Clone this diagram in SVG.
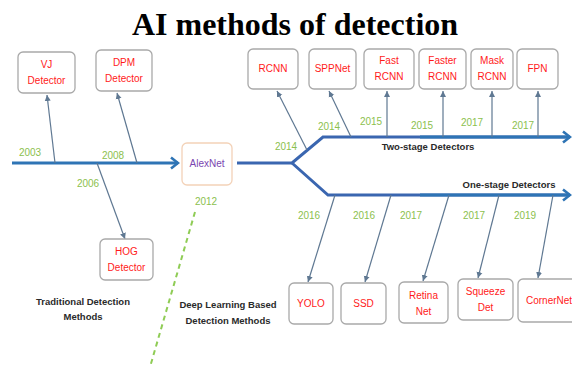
<svg xmlns="http://www.w3.org/2000/svg" width="572" height="367" viewBox="0 0 572 367">
<defs>
<marker id="big" markerUnits="userSpaceOnUse" markerWidth="12" markerHeight="14" refX="10" refY="7" orient="auto">
<path d="M3,1.5 L10,7 L3,12.5" fill="none" stroke="#2e74b5" stroke-width="2.6"/>
</marker>
<marker id="big2" markerUnits="userSpaceOnUse" markerWidth="12" markerHeight="14" refX="10" refY="7" orient="auto">
<path d="M3,1.5 L10,7 L3,12.5" fill="none" stroke="#2e74b5" stroke-width="2.6"/>
</marker>
<marker id="sm" markerUnits="userSpaceOnUse" markerWidth="8" markerHeight="8" refX="6" refY="4" orient="auto">
<path d="M0,1 L6,4 L0,7 Z" fill="#5f7892"/>
</marker>
</defs>
<style>
.box{fill:#ffffff;stroke:#a9a9a9;stroke-width:1.3}
.lbl{font-family:"Liberation Sans",Arial,sans-serif;font-size:10px;fill:#ff1a1a;text-anchor:middle}
.yr{font-family:"Liberation Sans",Arial,sans-serif;font-size:10px;fill:#8cbf4e;text-anchor:middle}
.cap{font-family:"Liberation Sans",Arial,sans-serif;font-size:9.5px;font-weight:bold;fill:#2a2a2a;text-anchor:middle}
.tl{fill:none;stroke:#2e74b5;stroke-width:3}
.br{fill:none;stroke:#3a66b0;stroke-width:3}
.cn{fill:none;stroke:#5f7892;stroke-width:1.2}
</style>
<rect width="572" height="367" fill="#ffffff"/>
<text x="295" y="35" font-family="Liberation Serif,'Times New Roman',serif" font-size="32" font-weight="bold" text-anchor="middle" fill="#000">AI methods of detection</text>

<g id="timelines">
<line class="tl" x1="12" y1="163" x2="178" y2="163" marker-end="url(#big)"/>
<polyline class="br" points="237,163 292,163 323,137 569,137"/>
<line class="tl" x1="420" y1="137" x2="570" y2="137" marker-end="url(#big2)"/>
<polyline class="br" points="292,163 328,195 569,195"/>
<line class="tl" x1="420" y1="195" x2="570" y2="195" marker-end="url(#big2)"/>
<line x1="195" y1="212" x2="150" y2="367" stroke="#8fcc55" stroke-width="2" stroke-dasharray="5,4"/>
</g>

<g id="connectors">
<line class="cn" x1="55" y1="163" x2="47" y2="95" marker-end="url(#sm)"/>
<line class="cn" x1="137" y1="163" x2="117" y2="93" marker-end="url(#sm)"/>
<line class="cn" x1="97" y1="163" x2="125" y2="239" marker-end="url(#sm)"/>
<line class="cn" x1="307" y1="150" x2="277" y2="91" marker-end="url(#sm)"/>
<line class="cn" x1="351" y1="137" x2="329" y2="91" marker-end="url(#sm)"/>
<line class="cn" x1="387" y1="137" x2="387" y2="91" marker-end="url(#sm)"/>
<line class="cn" x1="443" y1="137" x2="443" y2="91" marker-end="url(#sm)"/>
<line class="cn" x1="492" y1="137" x2="492" y2="91" marker-end="url(#sm)"/>
<line class="cn" x1="538" y1="137" x2="538" y2="91" marker-end="url(#sm)"/>
<line class="cn" x1="335" y1="195" x2="308" y2="282" marker-end="url(#sm)"/>
<line class="cn" x1="391" y1="195" x2="365" y2="282" marker-end="url(#sm)"/>
<line class="cn" x1="449" y1="195" x2="423" y2="281" marker-end="url(#sm)"/>
<line class="cn" x1="499" y1="195" x2="478" y2="278" marker-end="url(#sm)"/>
<line class="cn" x1="553" y1="195" x2="538" y2="278" marker-end="url(#sm)"/>
</g>

<g id="years">
<text class="yr" x="30" y="156">2003</text>
<text class="yr" x="113" y="159">2008</text>
<text class="yr" x="88" y="187">2006</text>
<text class="yr" x="206" y="205">2012</text>
<text class="yr" x="286" y="150">2014</text>
<text class="yr" x="329" y="130">2014</text>
<text class="yr" x="371" y="125">2015</text>
<text class="yr" x="422" y="129">2015</text>
<text class="yr" x="472" y="126">2017</text>
<text class="yr" x="523" y="129">2017</text>
<text class="yr" x="309" y="219">2016</text>
<text class="yr" x="364" y="219">2016</text>
<text class="yr" x="411" y="219">2017</text>
<text class="yr" x="474" y="219">2017</text>
<text class="yr" x="525" y="219">2019</text>
</g>

<g id="captions">
<text class="cap" x="83" y="305">Traditional Detection</text>
<text class="cap" x="83" y="320">Methods</text>
<text class="cap" x="228" y="308">Deep Learning Based</text>
<text class="cap" x="228" y="324">Detection Methods</text>
<text class="cap" x="428" y="150">Two-stage Detectors</text>
<text class="cap" x="509" y="188">One-stage Detectors</text>
</g>

<g id="vj"><rect class="box" x="18" y="52" width="57" height="41" rx="5"/><text class="lbl" x="46.5" y="68">VJ</text><text class="lbl" x="46.5" y="84">Detector</text></g>
<g id="dpm"><rect class="box" x="96" y="50" width="56" height="41" rx="5"/><text class="lbl" x="124" y="66">DPM</text><text class="lbl" x="124" y="82">Detector</text></g>
<g id="hog"><rect class="box" x="100" y="239" width="53" height="41" rx="5"/><text class="lbl" x="126.5" y="255">HOG</text><text class="lbl" x="126.5" y="271">Detector</text></g>
<g id="alexnet"><rect x="182" y="143" width="50" height="42" rx="5" fill="#fff" stroke="#f3d2b8" stroke-width="1.3"/><text class="lbl" x="207" y="167" style="fill:#7a45b0">AlexNet</text></g>
<g id="rcnn"><rect class="box" x="248" y="49" width="50" height="40" rx="5"/><text class="lbl" x="273" y="72">RCNN</text></g>
<g id="sppnet"><rect class="box" x="309" y="49" width="47" height="40" rx="5"/><text class="lbl" x="332.5" y="72">SPPNet</text></g>
<g id="fastrcnn"><rect class="box" x="364" y="49" width="50" height="40" rx="5"/><text class="lbl" x="389" y="64">Fast</text><text class="lbl" x="389" y="80">RCNN</text></g>
<g id="fasterrcnn"><rect class="box" x="419" y="49" width="47" height="40" rx="5"/><text class="lbl" x="442.5" y="64">Faster</text><text class="lbl" x="442.5" y="80">RCNN</text></g>
<g id="maskrcnn"><rect class="box" x="471" y="49" width="42" height="40" rx="5"/><text class="lbl" x="492" y="64">Mask</text><text class="lbl" x="492" y="80">RCNN</text></g>
<g id="fpn"><rect class="box" x="517" y="49" width="41" height="40" rx="5"/><text class="lbl" x="537.5" y="72">FPN</text></g>
<g id="yolo"><rect class="box" x="289" y="283" width="44" height="41" rx="5"/><text class="lbl" x="311" y="307">YOLO</text></g>
<g id="ssd"><rect class="box" x="341" y="283" width="45" height="41" rx="5"/><text class="lbl" x="363.5" y="307">SSD</text></g>
<g id="retinanet"><rect class="box" x="399" y="282" width="49" height="41" rx="5"/><text class="lbl" x="423.5" y="299">Retina</text><text class="lbl" x="423.5" y="315">Net</text></g>
<g id="squeezedet"><rect class="box" x="458" y="279" width="55" height="41" rx="5"/><text class="lbl" x="485.5" y="295">Squeeze</text><text class="lbl" x="485.5" y="311">Det</text></g>
<g id="cornernet"><rect class="box" x="518" y="279" width="62" height="43" rx="5"/><text class="lbl" x="526" y="304" style="text-anchor:start">CornerNet</text></g>
</svg>
